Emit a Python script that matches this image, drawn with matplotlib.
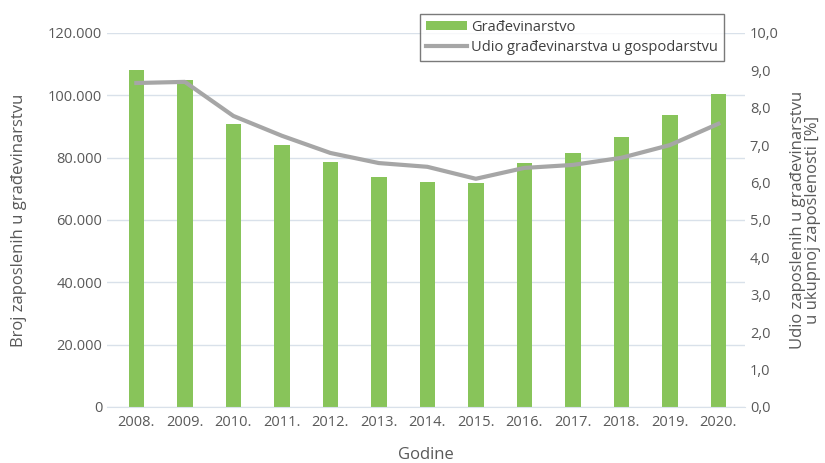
import matplotlib.pyplot as plt
from matplotlib.ticker import FuncFormatter

plt.rcParams['font.family'] = ['Open Sans', 'DejaVu Sans']

years = ['2008.', '2009.', '2010.', '2011.', '2012.', '2013.', '2014.',
         '2015.', '2016.', '2017.', '2018.', '2019.', '2020.']
employed = [108100, 104900, 90800, 84100, 78600, 73800, 72200,
            71900, 78300, 81500, 86600, 93700, 100400]
share = [8.66, 8.69, 7.78, 7.25, 6.79, 6.52, 6.42,
         6.10, 6.39, 6.47, 6.66, 7.00, 7.57]

text_col = '#595959'
fig = plt.figure(figsize=(8.25, 4.63), dpi=100)
ax = fig.add_axes([0.13, 0.121, 0.773, 0.808])
ax2 = ax.twinx()

x = range(len(years))
bars = ax.bar(x, employed, width=0.32, color='#88c45a', label='Građevinarstvo', zorder=2)
line, = ax2.plot(x, share, color='#a6a6a6', lw=3, label='Udio građevinarstva u gospodarstvu')

ax.set_ylim(0, 120000)
ax.set_yticks(range(0, 120001, 20000))
ax.yaxis.set_major_formatter(FuncFormatter(lambda v, p: '0' if v == 0 else f'{int(v):,}'.replace(',', '.')))
ax2.set_ylim(0, 10)
ax2.set_yticks([i for i in range(11)])
ax2.yaxis.set_major_formatter(FuncFormatter(lambda v, p: f'{v:.1f}'.replace('.', ',')))
ax.set_xlim(-0.6, len(years) - 0.45)
ax.set_xticks(list(x))
ax.set_xticklabels(years)

ax.grid(axis='y', color='#d9e1ea', lw=1, zorder=0)
ax.set_axisbelow(True)
for a in (ax, ax2):
    for s in a.spines.values():
        s.set_visible(False)
    a.tick_params(length=0, colors=text_col, labelsize=10.5)
ax.spines['bottom'].set_visible(True)
ax.spines['bottom'].set_color('#d9e1ea')
ax.tick_params(axis='x', pad=6)

ax.set_xlabel('Godine', color=text_col, fontsize=12, labelpad=12)
ax.set_ylabel('Broj zaposlenih u građevinarstvu', color=text_col, fontsize=12, labelpad=15)
ax2.set_ylabel('Udio zaposlenih u građevinarstvu\nu ukupnoj zaposlenosti [%]', color=text_col,
               fontsize=12, labelpad=8, linespacing=0.95)

leg = ax2.legend([bars, line], [bars.get_label(), line.get_label()], loc='upper right',
                 bbox_to_anchor=(0.967, 1.051), borderaxespad=0, frameon=True, fancybox=False,
                 fontsize=10.5, handlelength=2.8, handleheight=0.5, borderpad=0.4,
                 labelspacing=0.35, handletextpad=0.3)
leg.get_frame().set_edgecolor('#595959')
leg.get_frame().set_linewidth(1)
for t in leg.get_texts():
    t.set_color('#404040')

fig.savefig('out.png', dpi=100)
